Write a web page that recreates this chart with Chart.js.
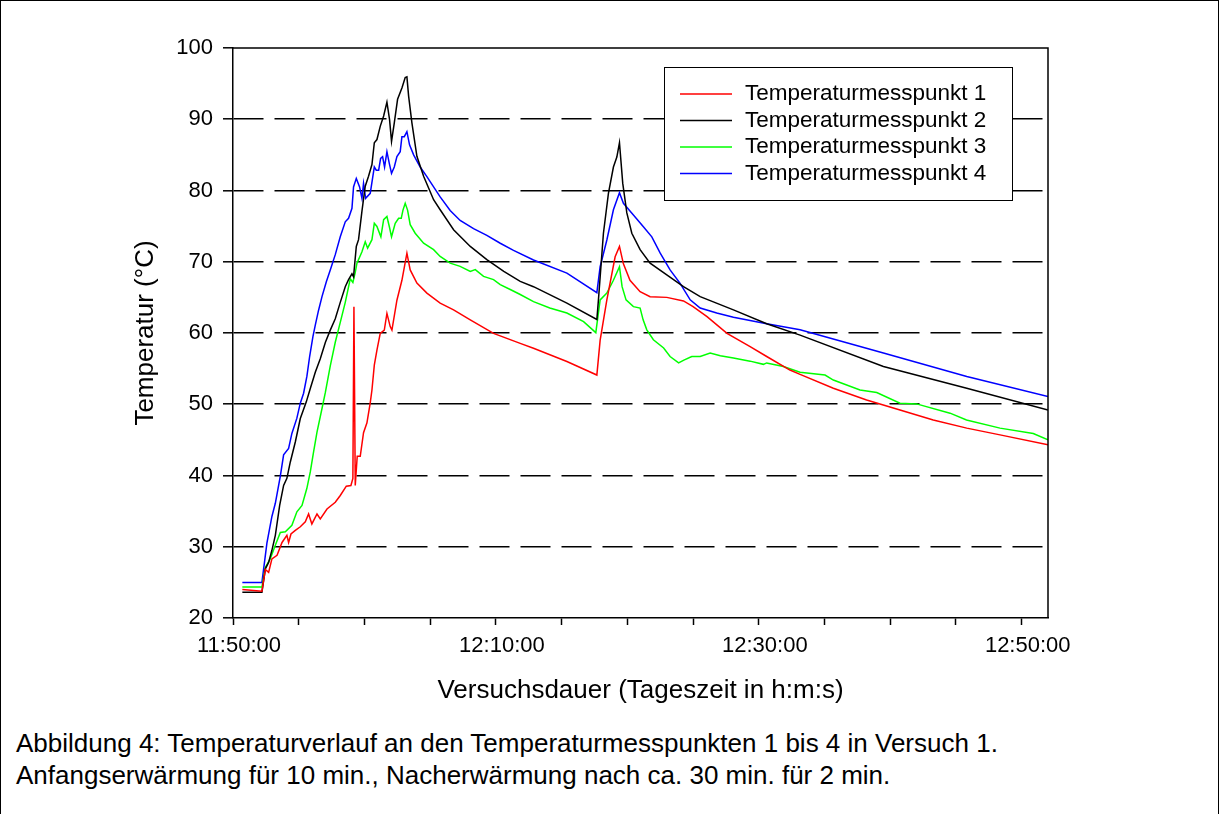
<!DOCTYPE html>
<html lang="de">
<head>
<meta charset="utf-8">
<script src="https://cdn.jsdelivr.net/npm/chart.js@4.4.1/dist/chart.umd.min.js"></script>
<style>
  body { margin: 0; background: #fff; font-family: "Liberation Sans", Arial, sans-serif; }
  #frame { position: absolute; left: 0; top: 0; width: 1217px; height: 900px; border: 1.5px solid #000; }
  #chart { position: absolute; left: 0; top: 0; }
  #caption { position: absolute; left: 16px; top: 727px; font-size: 26px; line-height: 32px; color: #000; }
</style>
</head>
<body>
<div id="frame"></div>
<canvas id="chart" width="1220" height="720"></canvas>
<div id="caption">Abbildung 4: Temperaturverlauf an den Temperaturmesspunkten 1 bis 4 in Versuch 1.<br>Anfangserwärmung für 10 min., Nacherwärmung nach ca. 30 min. für 2 min.</div>
<script>
// Zeit in Minuten ab 11:50:00, Temperatur in °C
const seriesNames = ['Temperaturmesspunkt 1', 'Temperaturmesspunkt 2', 'Temperaturmesspunkt 3', 'Temperaturmesspunkt 4'];
const seriesColors = ['#ff0000', '#000000', '#00ff00', '#0000ff'];
const yTicks = [20, 30, 40, 50, 60, 70, 80, 90, 100];
const xTicks = [0, 5, 10, 15, 20, 25, 30, 35, 40, 45, 50, 55, 60];
const xLabelled = [0, 20, 40, 60];

const t1 = [0.71, 2.2, 2.46, 2.71, 2.96, 3.35, 3.73, 4.1, 4.23, 4.41, 4.74, 5.12, 5.5, 5.75, 6.0, 6.39, 6.64, 7.15, 7.78, 8.16, 8.62, 8.97, 9.12, 9.2, 9.3, 9.45, 9.68, 9.93, 10.19, 10.44, 10.57, 10.75, 10.95, 11.2, 11.51, 11.71, 11.96, 12.09, 12.47, 12.85, 13.23, 13.48, 13.99, 14.75, 15.76, 16.78, 18.05, 19.82, 21.85, 22.86, 25.4, 27.68, 27.93, 28.44, 29.07, 29.4, 29.7, 30.2, 30.97, 31.73, 33.0, 34.27, 35.0, 36.06, 37.58, 39.34, 40.6, 42.37, 43.14, 45.67, 48.2, 50.74, 53.27, 55.82, 58.35, 62];
const v1 = [24.0, 23.75, 26.8, 26.4, 28.3, 28.8, 30.6, 31.6, 30.6, 31.8, 32.3, 32.8, 33.5, 34.6, 33.2, 34.6, 33.9, 35.3, 36.25, 37.2, 38.5, 38.6, 39.6, 63.7, 38.6, 42.7, 42.7, 46.0, 47.4, 50.2, 52.0, 55.5, 57.6, 59.95, 60.4, 62.75, 60.9, 60.4, 64.6, 67.4, 71.2, 68.85, 67.0, 65.6, 64.2, 63.25, 61.85, 59.95, 58.55, 57.85, 56.0, 54.1, 59.0, 64.65, 70.7, 72.15, 69.7, 67.4, 65.8, 65.1, 65.0, 64.5, 63.7, 62.3, 59.95, 58.1, 56.7, 54.8, 54.2, 52.25, 50.6, 49.2, 47.8, 46.65, 45.7, 44.3];

const t2 = [0.71, 2.2, 2.46, 2.71, 2.96, 3.22, 3.55, 3.85, 4.1, 4.36, 4.74, 5.12, 5.57, 5.88, 6.26, 6.64, 7.03, 7.4, 7.78, 8.16, 8.54, 8.79, 9.05, 9.17, 9.38, 9.55, 9.81, 10.06, 10.31, 10.57, 10.75, 10.95, 11.2, 11.46, 11.71, 11.91, 12.06, 12.27, 12.52, 12.85, 13.1, 13.23, 13.36, 13.61, 13.99, 14.5, 15.26, 15.76, 16.78, 18.05, 19.31, 20.6, 21.85, 22.86, 25.4, 27.68, 27.8, 28.18, 28.56, 28.94, 29.2, 29.4, 29.65, 29.96, 30.34, 30.97, 31.73, 33.0, 34.27, 35.54, 38.07, 40.6, 43.14, 49.48, 55.82, 62];
const v2 = [23.6, 23.6, 26.9, 27.8, 29.5, 31.6, 35.8, 38.6, 39.6, 41.9, 44.7, 48.0, 50.3, 52.2, 54.5, 56.4, 58.7, 60.4, 62.0, 64.3, 66.5, 67.5, 68.3, 67.9, 72.15, 73.1, 77.1, 80.6, 82.0, 83.65, 86.7, 87.15, 89.0, 90.45, 92.4, 89.95, 86.9, 89.5, 92.8, 94.4, 95.85, 95.95, 93.25, 89.5, 84.8, 82.0, 78.7, 77.3, 74.5, 72.15, 70.3, 68.65, 67.25, 66.5, 64.2, 61.9, 64.65, 74.0, 79.6, 83.3, 84.7, 86.7, 81.0, 76.85, 74.0, 71.7, 69.8, 68.15, 66.5, 65.1, 63.25, 61.3, 59.7, 55.3, 52.25, 49.2];

const t3 = [0.71, 2.2, 2.46, 2.83, 3.22, 3.6, 3.98, 4.48, 4.86, 5.25, 5.62, 5.88, 6.13, 6.39, 6.77, 7.03, 7.4, 7.78, 8.16, 8.54, 8.92, 9.12, 9.3, 9.43, 9.81, 10.06, 10.24, 10.57, 10.75, 10.95, 11.25, 11.46, 11.71, 11.89, 12.06, 12.34, 12.6, 12.8, 12.93, 13.1, 13.28, 13.48, 13.86, 14.5, 15.26, 15.76, 16.52, 17.28, 18.05, 18.43, 19.06, 19.82, 20.33, 21.09, 21.85, 22.86, 24.1, 25.4, 26.67, 27.6, 27.93, 28.44, 28.94, 29.4, 29.6, 29.9, 30.46, 30.97, 31.2, 31.48, 31.98, 32.76, 33.25, 33.9, 34.3, 34.9, 35.54, 36.3, 37.07, 38.07, 39.34, 40.35, 40.6, 41.87, 43.14, 45.04, 45.67, 47.7, 48.97, 50.74, 52.0, 54.55, 55.8, 58.35, 60.88, 62];
const v3 = [24.35, 24.35, 27.1, 28.3, 30.2, 32.0, 32.1, 33.0, 34.9, 35.8, 38.2, 40.5, 43.3, 46.1, 49.4, 51.7, 55.4, 58.7, 61.5, 64.3, 67.6, 67.1, 68.5, 69.8, 71.4, 72.8, 71.9, 73.1, 75.4, 74.95, 73.5, 75.9, 76.35, 74.95, 73.5, 75.4, 76.1, 76.1, 77.25, 78.2, 77.25, 75.2, 74.0, 72.6, 71.7, 70.75, 69.8, 69.35, 68.65, 68.9, 67.95, 67.5, 66.8, 66.1, 65.4, 64.4, 63.5, 62.8, 61.6, 60.05, 64.65, 65.6, 67.4, 69.3, 66.5, 64.65, 63.7, 63.5, 61.85, 60.45, 59.05, 57.9, 56.7, 55.8, 56.2, 56.7, 56.7, 57.2, 56.8, 56.5, 56.05, 55.6, 55.8, 55.3, 54.5, 54.1, 53.4, 52.0, 51.65, 50.15, 50.05, 48.75, 47.8, 46.65, 45.9, 45.0];

const t4 = [0.71, 2.2, 2.58, 2.96, 3.22, 3.6, 3.85, 4.23, 4.48, 4.86, 5.12, 5.37, 5.62, 5.83, 6.08, 6.26, 6.51, 6.77, 7.1, 7.4, 7.78, 8.16, 8.54, 8.79, 9.05, 9.17, 9.38, 9.63, 9.81, 9.93, 10.09, 10.44, 10.75, 10.9, 11.08, 11.23, 11.38, 11.53, 11.71, 11.89, 12.06, 12.27, 12.47, 12.72, 12.85, 13.03, 13.23, 13.43, 13.74, 14.24, 14.75, 15.26, 15.76, 16.52, 17.28, 18.3, 19.31, 20.33, 21.34, 22.86, 25.4, 27.68, 27.93, 28.44, 28.94, 29.4, 29.7, 30.46, 31.22, 31.86, 32.5, 33.25, 34.0, 34.78, 35.54, 36.8, 38.07, 40.6, 43.14, 49.48, 55.82, 62];
const v4 = [25.0, 25.0, 30.5, 34.25, 36.1, 39.9, 42.9, 43.8, 45.9, 48.05, 50.15, 51.55, 53.9, 56.7, 59.5, 61.1, 63.2, 65.1, 67.2, 68.85, 71.0, 73.5, 75.6, 76.1, 77.5, 80.5, 81.7, 80.5, 78.9, 81.0, 78.9, 79.6, 83.3, 82.85, 82.85, 84.5, 84.75, 83.3, 85.45, 83.8, 82.4, 83.3, 84.75, 85.45, 87.55, 87.55, 88.25, 86.4, 85.0, 83.3, 81.95, 80.5, 79.1, 77.2, 75.8, 74.65, 73.7, 72.6, 71.6, 70.25, 68.4, 65.67, 69.3, 73.05, 77.3, 79.7, 78.2, 76.55, 74.9, 73.5, 71.2, 68.85, 67.0, 64.65, 63.5, 62.8, 62.2, 61.3, 60.45, 57.2, 53.9, 51.1];

const times = [t1, t2, t3, t4];
const temps = [v1, v2, v3, v4];

const FONT = '"Liberation Sans", Arial, sans-serif';

function clockLabel(min) {
  const total = 11 * 60 + 50 + min;
  const h = Math.floor(total / 60);
  const m = total % 60;
  return h + ':' + String(m).padStart(2, '0') + ':00';
}

// Rahmen oben und rechts um den Plotbereich
const boxFrame = {
  id: 'boxFrame',
  afterDraw(chart) {
    const { ctx, chartArea: a } = chart;
    ctx.save();
    ctx.strokeStyle = '#000';
    ctx.lineWidth = 1.5;
    ctx.beginPath();
    ctx.moveTo(a.left, a.top);
    ctx.lineTo(a.right, a.top);
    ctx.lineTo(a.right, a.bottom);
    ctx.stroke();
    ctx.restore();
  }
};

// Legende als Kasten im Diagramm
const boxLegend = {
  id: 'boxLegend',
  afterDatasetsDraw(chart) {
    const { ctx, chartArea: a } = chart;
    const x = a.left + 431, y = a.top + 19, w = 348, h = 133;
    ctx.save();
    ctx.fillStyle = '#fff';
    ctx.fillRect(x, y, w, h);
    ctx.strokeStyle = '#000';
    ctx.lineWidth = 1;
    ctx.strokeRect(x + 0.5, y + 0.5, w, h);
    ctx.font = '22.5px ' + FONT;
    ctx.textBaseline = 'middle';
    seriesNames.forEach((name, i) => {
      const ry = y + 27 + i * 26.5;
      ctx.beginPath();
      ctx.strokeStyle = seriesColors[i];
      ctx.lineWidth = 1.5;
      ctx.moveTo(x + 16, ry);
      ctx.lineTo(x + 68, ry);
      ctx.stroke();
      ctx.fillStyle = '#000';
      ctx.fillText(name, x + 81, ry);
    });
    ctx.restore();
  }
};

new Chart(document.getElementById('chart'), {
  type: 'line',
  data: {
    datasets: seriesNames.map((name, i) => ({
      label: name,
      data: times[i].map((t, j) => ({ x: t, y: temps[i][j] })),
      borderColor: seriesColors[i],
      borderWidth: 1.5,
      pointRadius: 0,
      tension: 0,
      fill: false
    }))
  },
  options: {
    responsive: false,
    animation: false,
    events: [],
    layout: { padding: { top: 48, right: 172, left: 0, bottom: 0 } },
    plugins: { legend: { display: false }, tooltip: { enabled: false } },
    scales: {
      x: {
        type: 'linear',
        min: 0,
        max: 62,
        afterFit: s => { s.height = 102; },
        afterBuildTicks: s => { s.ticks = xTicks.map(v => ({ value: v })); },
        ticks: {
          autoSkip: false,
          maxRotation: 0,
          labelOffset: 6,
          padding: 8,
          color: '#000',
          font: { family: FONT, size: 22 },
          callback: v => (xLabelled.includes(v) ? clockLabel(v) : '')
        },
        grid: { drawOnChartArea: false, tickLength: 7, tickColor: '#000', tickWidth: 1.5 },
        border: { color: '#000', width: 1.5 },
        title: {
          display: true,
          text: 'Versuchsdauer (Tageszeit in h:m:s)',
          color: '#000',
          font: { family: FONT, size: 26 },
          padding: { top: 0, bottom: 14 }
        }
      },
      y: {
        min: 20,
        max: 100,
        afterFit: s => { s.width = 233; },
        afterBuildTicks: s => { s.ticks = yTicks.map(v => ({ value: v })); },
        ticks: {
          padding: 10,
          color: '#000',
          font: { family: FONT, size: 22 }
        },
        grid: {
          color: c => (c.tick && (c.tick.value === 20 || c.tick.value === 100) ? 'rgba(0,0,0,0)' : '#000'),
          lineWidth: 1.6,
          tickLength: 10,
          tickColor: '#000',
          tickWidth: 1.5
        },
        border: { color: '#000', width: 1.5, dash: [30, 11] },
        title: {
          display: true,
          text: 'Temperatur (°C)',
          color: '#000',
          font: { family: FONT, size: 26 },
          padding: { top: 130, bottom: 0 }
        }
      }
    }
  },
  plugins: [boxFrame, boxLegend]
});
</script>
</body>
</html>
